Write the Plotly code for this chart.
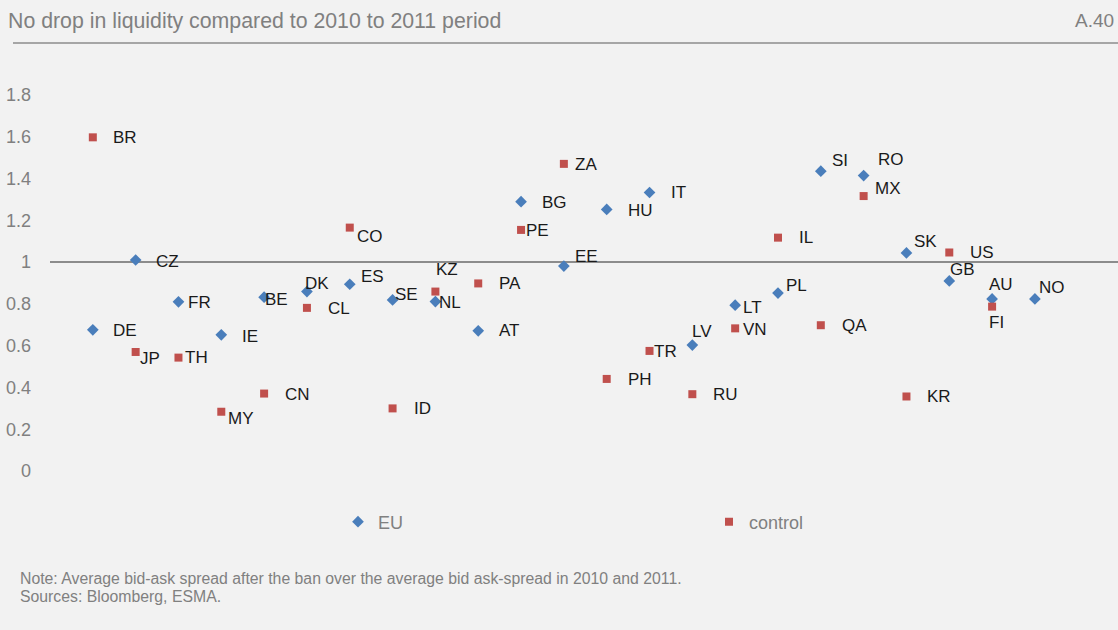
import plotly.graph_objects as go

# Bid-ask spread ratio (after ban / 2010-2011 average), EU markets
eu_names = ["DE", "CZ", "FR", "IE", "BE", "DK", "ES", "SE", "NL", "AT", "BG", "EE",
            "HU", "IT", "LV", "LT", "PL", "SI", "RO", "SK", "GB", "AU", "NO"]
eu_values = [0.676, 1.01, 0.81, 0.652, 0.832, 0.859, 0.894, 0.819, 0.811, 0.671, 1.289, 0.981,
             1.252, 1.333, 0.603, 0.794, 0.852, 1.435, 1.414, 1.044, 0.910, 0.824, 0.824]

# Control group markets
control_names = ["BR", "JP", "TH", "MY", "CN", "CL", "CO", "ID", "KZ", "PA", "PE", "ZA",
                 "PH", "TR", "RU", "VN", "IL", "QA", "MX", "KR", "US", "FI"]
control_values = [1.597, 0.570, 0.543, 0.284, 0.371, 0.781, 1.165, 0.300, 0.859, 0.898, 1.154, 1.470,
                  0.441, 0.575, 0.368, 0.683, 1.117, 0.698, 1.316, 0.357, 1.046, 0.787]

tick_values = [0, 0.2, 0.4, 0.6, 0.8, 1, 1.2, 1.4, 1.6, 1.8]
tick_labels = ["0", "0.2", "0.4", "0.6", "0.8", "1", "1.2", "1.4", "1.6", "1.8"]

title_text = "No drop in liquidity compared to 2010 to 2011 period"
chart_id = "A.40"
note_text = "Note: Average bid-ask spread after the ban over the average bid ask-spread in 2010 and 2011."
source_text = "Sources: Bloomberg, ESMA."

# Label offsets in pixels (dx to text left edge, dy downward) for each point label
eu_label_offsets = {
    "DE": (18, 1), "CZ": (18, 1), "FR": (8, 1), "IE": (19, 2), "BE": (-1, 2),
    "DK": (-4, -8), "ES": (9, -8), "SE": (0, -5), "NL": (2, 1), "AT": (19, 0),
    "BG": (19, 1), "EE": (9, -10), "HU": (19, 1), "IT": (19, 0), "LV": (-2, -14),
    "LT": (6, 2), "PL": (6, -8), "SI": (9, -11), "RO": (12, -16), "SK": (6, -11),
    "GB": (-1, -11), "AU": (-5, -14), "NO": (2, -11),
}
control_label_offsets = {
    "BR": (18, 0), "JP": (2, 7), "TH": (5, 0), "MY": (5, 7), "CN": (19, 1),
    "CL": (19, 1), "CO": (5, 9), "ID": (19, 0), "KZ": (-1, -22), "PA": (19, 0),
    "PE": (3, 1), "ZA": (9, 1), "PH": (19, 1), "TR": (2, 1), "RU": (19, 0),
    "VN": (6, 1), "IL": (19, 0), "QA": (19, 0), "MX": (9, -8), "KR": (19, 0),
    "US": (19, 0), "FI": (-5, 16),
}

W, H = 1118, 630
M_L, M_R, M_T, M_B = 50, 0, 74, 138
BG = "#f2f2f2"
BLUE = "#4a7ebb"
RED = "#c0504d"
GREY = "#808080"
FONT = "Liberation Sans, Arial, sans-serif"


def px_to_paper_x(px):
    return (px - M_L) / (W - M_L - M_R)


def px_to_paper_y(py):
    return (H - M_B - py) / (H - M_T - M_B)


eu_x = list(range(1, len(eu_names) + 1))
control_x = list(range(1, len(control_names) + 1))

fig = go.Figure()
fig.add_trace(go.Scatter(
    x=eu_x, y=eu_values, mode="markers", name="EU",
    marker=dict(symbol="diamond", size=9, color=BLUE),
    hovertext=eu_names,
))
fig.add_trace(go.Scatter(
    x=control_x, y=control_values, mode="markers", name="control",
    marker=dict(symbol="square", size=8, color=RED),
    hovertext=control_names,
))

annotations = []
label_font = dict(family=FONT, size=17, color="#1a1a1a")
for names, xs, ys, offs in [(eu_names, eu_x, eu_values, eu_label_offsets),
                            (control_names, control_x, control_values, control_label_offsets)]:
    for n, x, y in zip(names, xs, ys):
        dx, dy = offs[n]
        annotations.append(dict(
            x=x, y=y, xref="x", yref="y", text=n, showarrow=False,
            xanchor="left", yanchor="middle", xshift=dx, yshift=-dy,
            font=label_font,
        ))

annotations += [
    dict(x=px_to_paper_x(6), y=px_to_paper_y(21), xref="paper", yref="paper",
         text=title_text, showarrow=False, xanchor="left", yanchor="middle",
         font=dict(family=FONT, size=21.3, color=GREY)),
    dict(x=px_to_paper_x(1116), y=px_to_paper_y(21), xref="paper", yref="paper",
         text=chart_id, showarrow=False, xanchor="right", yanchor="middle",
         font=dict(family=FONT, size=19, color=GREY)),
    dict(x=px_to_paper_x(18), y=px_to_paper_y(578), xref="paper", yref="paper",
         text=note_text, showarrow=False, xanchor="left", yanchor="middle",
         font=dict(family=FONT, size=15.8, color=GREY)),
    dict(x=px_to_paper_x(18), y=px_to_paper_y(596), xref="paper", yref="paper",
         text=source_text, showarrow=False, xanchor="left", yanchor="middle",
         font=dict(family=FONT, size=15.8, color=GREY)),
]

shapes = [
    # line under the heading
    dict(type="line", xref="paper", yref="paper",
         x0=px_to_paper_x(13), x1=px_to_paper_x(1118),
         y0=px_to_paper_y(43), y1=px_to_paper_y(43),
         line=dict(color="#8c8c8c", width=1.5)),
    # reference line at a ratio of 1
    dict(type="line", xref="paper", yref="y", x0=0, x1=1, y0=1, y1=1,
         line=dict(color="#8c8c8c", width=2), layer="below"),
]

fig.update_layout(
    width=W, height=H,
    margin=dict(l=M_L, r=M_R, t=M_T, b=M_B),
    paper_bgcolor=BG, plot_bgcolor=BG,
    showlegend=True,
    legend=dict(
        orientation="h", x=px_to_paper_x(338), y=px_to_paper_y(522),
        xanchor="left", yanchor="middle",
        entrywidth=326, entrywidthmode="pixels",
        font=dict(family=FONT, size=18, color=GREY),
        bgcolor="rgba(0,0,0,0)",
    ),
    xaxis=dict(range=[0, 24.94], visible=False),
    yaxis=dict(range=[-0.1, 1.9], tickvals=tick_values, ticktext=tick_labels,
               showgrid=False, zeroline=False, showline=False, ticks="",
               ticklabelstandoff=18,
               tickfont=dict(family=FONT, size=18, color=GREY)),
    annotations=annotations,
    shapes=shapes,
)

fig.write_html("out.html")
